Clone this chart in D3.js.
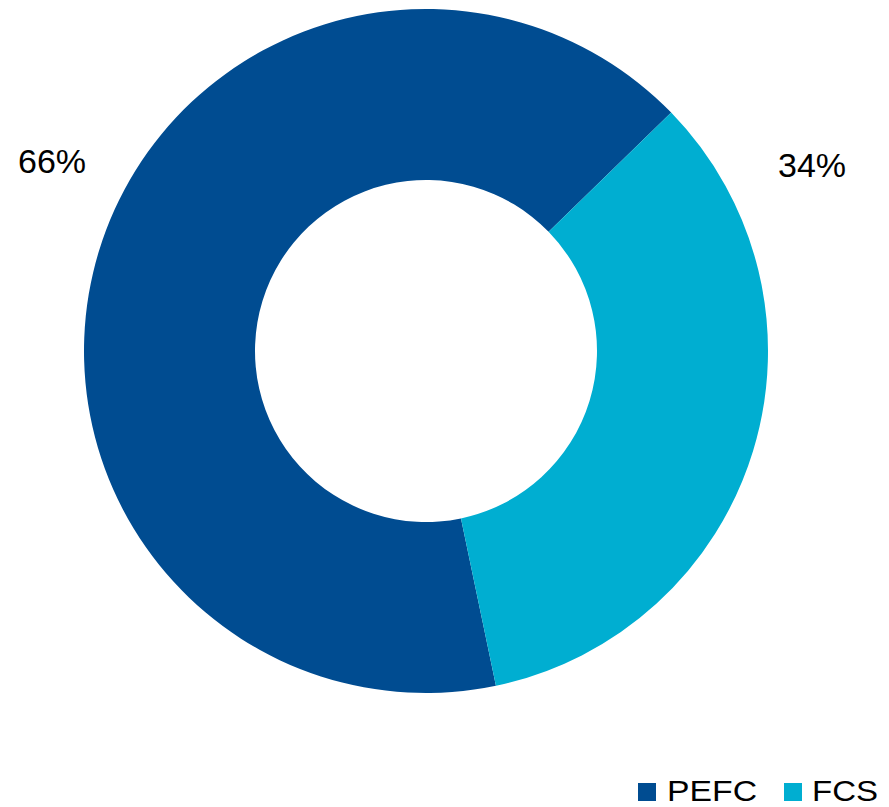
<!DOCTYPE html>
<html><head><meta charset="utf-8">
<script src="https://cdn.jsdelivr.net/npm/d3@7"></script>
<style>body{margin:0;background:#fff}svg{display:block}</style>
</head><body>
<script>
const categories = ["PEFC", "FCS"];
const values = [66, 34];
const labels = ["66%", "34%"];
const colors = ["#004C91", "#00AED1"];

const W = 889, H = 807;
const cx = 426, cy = 351, R = 342, r = 171;
const svg = d3.select("body").append("svg").attr("width", W).attr("height", H);
const g = svg.append("g").attr("transform", `translate(${cx},${cy})`);
const start = 168.2 * Math.PI / 180;
const pie = d3.pie().sort(null).startAngle(start).endAngle(start + 2 * Math.PI);
const arc = d3.arc().innerRadius(r).outerRadius(R);
const arcs = pie(values);
g.selectAll("path").data(arcs).join("path")
  .attr("d", arc).attr("fill", (d, i) => colors[i]);

const labelPos = [[52, 173], [812, 177]];
svg.selectAll("text.lbl").data(labels).join("text").attr("class", "lbl")
  .attr("x", (d, i) => labelPos[i][0]).attr("y", (d, i) => labelPos[i][1])
  .attr("text-anchor", "middle")
  .style("font-family", "Liberation Sans, Arial, sans-serif").style("font-size", "34px")
  .text(d => d);

const leg = [[638, 667], [784, 812]];
categories.forEach((c, i) => {
  svg.append("rect").attr("x", leg[i][0]).attr("y", 783).attr("width", 18).attr("height", 18).attr("fill", colors[i]);
  svg.append("text").attr("x", leg[i][1]).attr("y", 801)
    .style("font-family", "Liberation Sans, Arial, sans-serif").style("font-size", "30px")
    .attr("textLength", i === 0 ? 90 : 66).attr("lengthAdjust", "spacingAndGlyphs")
    .text(c);
});
</script>
</body></html>
